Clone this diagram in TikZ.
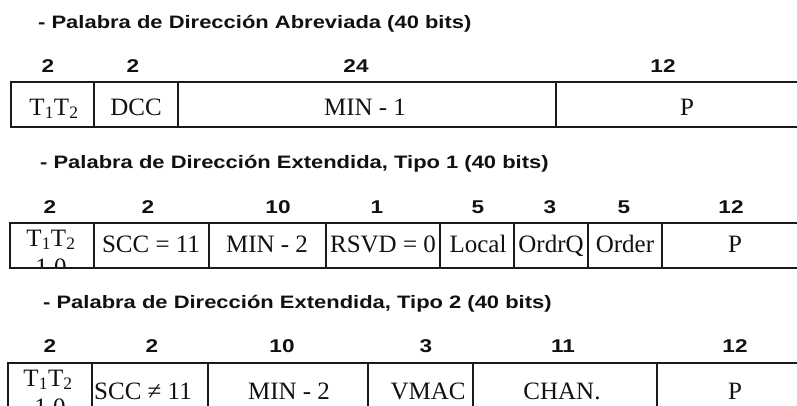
\documentclass[tikz,border=0pt]{standalone}
\usepackage{fontspec}
\setmainfont{Liberation Serif}
\newfontfamily\headfont[FakeStretch=1.22]{Liberation Sans}
\definecolor{inkline}{HTML}{1A1A1A}
\definecolor{inktext}{HTML}{111111}

\begin{document}
\begin{tikzpicture}[x=1pt, y=-1pt,
  heading/.style={anchor=base west, inner sep=0pt, text=inktext,
    font=\headfont\bfseries\fontsize{18}{20}\selectfont},
  bitcount/.style={anchor=base, inner sep=0pt, text=inktext,
    font=\headfont\bfseries\fontsize{18.5}{20}\selectfont},
  field/.style={anchor=base, inner sep=0pt, text=inktext,
    font=\fontsize{25}{28}\selectfont},
  frame/.style={draw=inkline, line width=1.3pt}]

\useasboundingbox (0,0) rectangle (797,405);
\clip (0,0) rectangle (797,405);

% Row 1: abbreviated word
\node[heading] (headA) at (38,28) {- Palabra de Dirección Abreviada (40 bits)};
\node[bitcount] (bitsA1) at (48,72) {2};
\node[bitcount] (bitsA2) at (133,72) {2};
\node[bitcount] (bitsA3) at (356,72) {24};
\node[bitcount] (bitsA4) at (663,72) {12};

\draw[frame] (11,82) rectangle (820,127);
\foreach \x in {94,178,556}
  \draw[frame] (\x,82) -- (\x,127);

\node[field] (tA) at (54,115) {T\textsubscript{1}T\textsubscript{2}};
\node[field] (dcc) at (136,115) {DCC};
\node[field] (minA) at (365,115) {MIN - 1};
\node[field] (pA) at (687,115) {P};

% Row 2: extended word, type 1
\node[heading] (headB) at (40,168) {- Palabra de Dirección Extendida, Tipo 1 (40 bits)};
\node[bitcount] (bitsB1) at (50,213) {2};
\node[bitcount] (bitsB2) at (148,213) {2};
\node[bitcount] (bitsB3) at (278,213) {10};
\node[bitcount] (bitsB4) at (377,213) {1};
\node[bitcount] (bitsB5) at (478,213) {5};
\node[bitcount] (bitsB6) at (550,213) {3};
\node[bitcount] (bitsB7) at (624,213) {5};
\node[bitcount] (bitsB8) at (731,213) {12};

\begin{scope}
  \clip (11,223) rectangle (94,268);
  \node[field] (tB) at (51,246) {T\textsubscript{1}T\textsubscript{2}};
  \node[field] (tBval) at (51,275) {1 0};
\end{scope}
\draw[frame] (10,223) rectangle (820,268);
\foreach \x in {94,209,326,440,514,588,662}
  \draw[frame] (\x,223) -- (\x,268);

\node[field] (sccB) at (151,252) {SCC = 11};
\node[field] (minB) at (267,252) {MIN - 2};
\node[field] (rsvd) at (383,252) {RSVD = 0};
\node[field] (local) at (478,252) {Local};
\node[field] (ordq) at (551,252) {OrdrQ};
\node[field] (order) at (625,252) {Order};
\node[field] (pB) at (735,252) {P};

% Row 3: extended word, type 2
\node[heading] (headC) at (43,308) {- Palabra de Dirección Extendida, Tipo 2 (40 bits)};
\node[bitcount] (bitsC1) at (50,352) {2};
\node[bitcount] (bitsC2) at (152,352) {2};
\node[bitcount] (bitsC3) at (282,352) {10};
\node[bitcount] (bitsC4) at (426,352) {3};
\node[bitcount] (bitsC5) at (563,352) {11};
\node[bitcount] (bitsC6) at (735,352) {12};

\node[field] (tC) at (48,386) {T\textsubscript{1}T\textsubscript{2}};
\node[field] (tCval) at (50,415) {1 0};
\draw[frame] (8,363) rectangle (820,430);
\foreach \x in {92,208,368,473,657}
  \draw[frame] (\x,363) -- (\x,430);

\node[field] (sccC) at (143,399) {SCC ≠ 11};
\node[field] (minC) at (289,399) {MIN - 2};
\node[field] (vmac) at (428,399) {VMAC};
\node[field] (chan) at (562,399) {CHAN.};
\node[field] (pC) at (735,399) {P};

\end{tikzpicture}
\end{document}
